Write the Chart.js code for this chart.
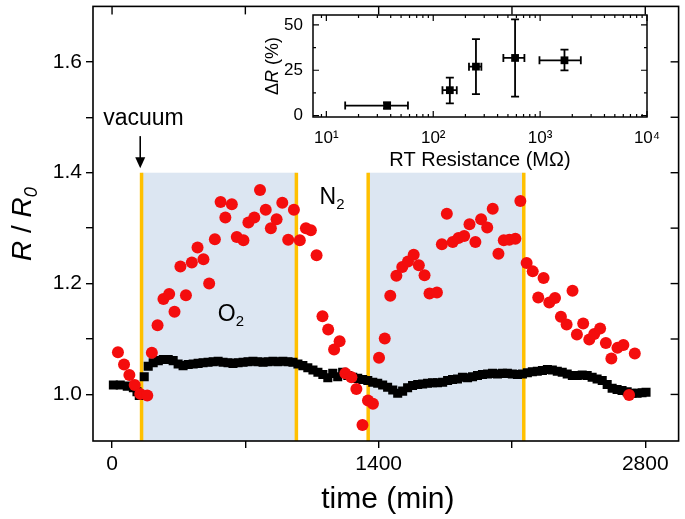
<!DOCTYPE html>
<html>
<head>
<meta charset="utf-8">
<script src="https://cdn.jsdelivr.net/npm/chart.js@4.4.0/dist/chart.umd.min.js"></script>
<style>
  html, body { margin: 0; padding: 0; background: #fff; }
  #wrap { position: relative; width: 685px; height: 519px; }
  #main { position: absolute; left: 0; top: 0; }
  #inset { position: absolute; left: 250px; top: 0; }
</style>
</head>
<body>
<div id="wrap">
  <canvas id="main" width="685" height="519" style="width:685px;height:519px"></canvas>
  <canvas id="inset" width="430" height="180" style="width:430px;height:180px"></canvas>
</div>
<script>
// ---------------- main plot data ----------------
const redTime = [31, 63, 91, 119, 148, 185, 209, 239, 270, 300, 328, 359, 388, 419, 449, 480, 510, 540, 570, 595,
  629, 655, 690, 716, 747, 777, 807, 834, 864, 894, 925, 955, 986, 1018, 1044, 1074, 1105, 1135, 1166, 1195,
  1225, 1257, 1283, 1315, 1344, 1370, 1402, 1432, 1461, 1493, 1524, 1554, 1584, 1611, 1641, 1667, 1706, 1732,
  1758, 1789, 1819, 1849, 1877, 1908, 1938, 1970, 1999, 2029, 2057, 2086, 2118, 2144, 2177, 2209, 2238, 2266,
  2296, 2326, 2357, 2387, 2418, 2441, 2474, 2506, 2532, 2563, 2593, 2622, 2654, 2685, 2715, 2745];
const redRatio = [1.076, 1.054, 1.035, 1.017, 1.001, 0.998, 1.075, 1.125, 1.172, 1.181, 1.149, 1.231, 1.179, 1.238,
  1.265, 1.244, 1.200, 1.280, 1.347, 1.319, 1.343, 1.284, 1.278, 1.310, 1.319, 1.369, 1.333, 1.300, 1.316, 1.346,
  1.279, 1.333, 1.278, 1.300, 1.296, 1.251, 1.141, 1.117, 1.081, 1.096, 1.038, 1.031, 1.010, 0.945, 0.989, 0.983,
  1.066, 1.101, 1.178, 1.214, 1.230, 1.240, 1.252, 1.233, 1.215, 1.182, 1.184, 1.271, 1.326, 1.275, 1.282, 1.286,
  1.307, 1.275, 1.316, 1.301, 1.335, 1.254, 1.278, 1.279, 1.281, 1.349, 1.237, 1.222, 1.175, 1.210, 1.166, 1.174,
  1.140, 1.126, 1.187, 1.108, 1.128, 1.099, 1.109, 1.119, 1.093, 1.065, 1.084, 1.089, 0.999, 1.074];

const blackTime = [7, 43, 80, 112, 131, 143, 169, 190, 216, 243, 269, 295, 321, 347, 373, 400, 426, 452, 478, 504,
  531, 557, 583, 609, 635, 662, 688, 714, 740, 766, 793, 819, 845, 871, 897, 924, 950, 976, 1002, 1028, 1055, 1081,
  1107, 1133, 1159, 1185, 1211, 1238, 1264, 1290, 1316, 1343, 1369, 1395, 1421, 1447, 1474, 1500, 1526, 1552, 1578,
  1605, 1631, 1657, 1683, 1709, 1736, 1762, 1788, 1814, 1840, 1867, 1893, 1919, 1945, 1972, 1998, 2024, 2050, 2076,
  2102, 2129, 2155, 2181, 2207, 2233, 2260, 2286, 2312, 2338, 2364, 2390, 2417, 2443, 2469, 2495, 2521, 2547, 2574,
  2600, 2626, 2652, 2678, 2705, 2731, 2757, 2783, 2804];
const blackRatio = [1.017, 1.017, 1.015, 1.012, 1.005, 0.998, 1.032, 1.051, 1.057, 1.061, 1.063, 1.063, 1.061, 1.055,
  1.052, 1.054, 1.055, 1.056, 1.057, 1.058, 1.059, 1.060, 1.058, 1.057, 1.056, 1.057, 1.058, 1.059, 1.060, 1.059,
  1.058, 1.059, 1.060, 1.059, 1.060, 1.059, 1.058, 1.055, 1.052, 1.048, 1.044, 1.040, 1.036, 1.030, 1.038, 1.032,
  1.040, 1.034, 1.031, 1.029, 1.027, 1.025, 1.022, 1.020, 1.017, 1.013, 1.008, 1.002, 1.006, 1.012, 1.016, 1.018,
  1.019, 1.020, 1.021, 1.021, 1.022, 1.025, 1.027, 1.028, 1.031, 1.030, 1.032, 1.034, 1.036, 1.037, 1.038, 1.037,
  1.038, 1.038, 1.037, 1.036, 1.037, 1.039, 1.041, 1.042, 1.043, 1.045, 1.044, 1.042, 1.040, 1.037, 1.034, 1.034,
  1.035, 1.034, 1.031, 1.028, 1.025, 1.018, 1.011, 1.009, 1.007, 1.005, 1.002, 1.002, 1.003, 1.004];

// gas exposure windows (min)
const gasStart = [155, 1345];
const gasEnd = [968, 2162];

const xTickValues = [0, 700, 1400, 2100, 2800];
const xTickLabels = [0, 1400, 2800];
const yTickValues = [1.0, 1.1, 1.2, 1.3, 1.4, 1.5, 1.6];
const yTickLabels = [1.0, 1.2, 1.4, 1.6];

// ---------------- inset data ----------------
const rtRes = [37, 143, 251, 583, 1690];
const rtResLow = [15, 122, 216, 453, 986];
const rtResHigh = [58, 166, 282, 713, 2404];
const deltaR = [5.5, 14.0, 27.0, 31.8, 30.5];
const deltaRLow = [3.8, 6.7, 11.8, 10.5, 24.9];
const deltaRHigh = [7.2, 20.9, 42.2, 53.1, 36.4];
const insetYTicks = [0, 12.5, 25, 37.5, 50];
const insetYLabels = [0, 25, 50];
const insetXLabels = { 10: '10\u00B9', 100: '10\u00B2', 1000: '10\u00B3', 10000: '10\u2074' };

const FONT = '"Liberation Sans", Arial, sans-serif';
Chart.defaults.font.family = FONT;
Chart.defaults.color = '#000';

function toPoints(xs, ys) {
    return xs.map((v, i) => ({ x: v, y: ys[i] }));
}

// no extra room for edge labels, the layout padding handles it
function noEdgePadding(s) {
    s.paddingTop = 0;
    s.paddingBottom = 0;
    s.paddingLeft = 0;
    s.paddingRight = 0;
}

// draws a run of text pieces (normal / italic / subscript) starting at x
function drawPieces(ctx, pieces, x, y, size) {
    pieces.forEach(p => {
        const s = p.sub ? size * 0.65 : size;
        ctx.font = (p.italic ? 'italic ' : '') + s + 'px ' + FONT;
        ctx.fillText(p.t, x, y + (p.sub ? size * 0.22 : 0));
        x += ctx.measureText(p.t).width;
    });
}
function piecesWidth(ctx, pieces, size) {
    let w = 0;
    pieces.forEach(p => {
        const s = p.sub ? size * 0.65 : size;
        ctx.font = (p.italic ? 'italic ' : '') + s + 'px ' + FONT;
        w += ctx.measureText(p.t).width;
    });
    return w;
}

// ----------------------------------
// MAIN PLOT DECORATION
// ----------------------------------
const mainDecor = {
    id: 'mainDecor',
    beforeDatasetsDraw(chart) {
        const { ctx, chartArea: a, scales: { x, y } } = chart;
        const top = y.getPixelForValue(1.4);
        ctx.save();
        gasStart.forEach((s, i) => {
            const x0 = x.getPixelForValue(s);
            const x1 = x.getPixelForValue(gasEnd[i]);
            ctx.fillStyle = '#dce6f2';
            ctx.fillRect(x0, top, x1 - x0, a.bottom - top);
            ctx.strokeStyle = '#ffc000';
            ctx.lineWidth = 3.5;
            [x0, x1].forEach(px => {
                ctx.beginPath();
                ctx.moveTo(px, top);
                ctx.lineTo(px, a.bottom);
                ctx.stroke();
            });
        });
        ctx.restore();
    },
    afterDraw(chart) {
        const { ctx, chartArea: a, scales: { x, y } } = chart;
        ctx.save();

        // frame
        ctx.strokeStyle = '#000';
        ctx.lineWidth = 1.6;
        ctx.strokeRect(a.left, a.top, a.right - a.left, a.bottom - a.top);

        // inward ticks on top and right
        ctx.lineWidth = 1.4;
        x.ticks.forEach(t => {
            const px = x.getPixelForValue(t.value);
            ctx.beginPath();
            ctx.moveTo(px, a.top);
            ctx.lineTo(px, a.top + 8);
            ctx.stroke();
        });
        y.ticks.forEach(t => {
            const py = y.getPixelForValue(t.value);
            ctx.beginPath();
            ctx.moveTo(a.right, py);
            ctx.lineTo(a.right - 8, py);
            ctx.stroke();
        });

        // vacuum label + arrow
        ctx.fillStyle = '#000';
        ctx.textBaseline = 'alphabetic';
        ctx.textAlign = 'center';
        ctx.font = '23px ' + FONT;
        ctx.fillText('vacuum', x.getPixelForValue(165), y.getPixelForValue(1.486));
        const ax = x.getPixelForValue(148);
        const ay0 = y.getPixelForValue(1.466);
        const ay1 = y.getPixelForValue(1.408);
        ctx.lineWidth = 1.6;
        ctx.beginPath();
        ctx.moveTo(ax, ay0);
        ctx.lineTo(ax, ay1 - 8);
        ctx.stroke();
        ctx.beginPath();
        ctx.moveTo(ax - 5, ay1 - 11);
        ctx.lineTo(ax + 5, ay1 - 11);
        ctx.lineTo(ax, ay1);
        ctx.closePath();
        ctx.fill();

        // gas labels
        ctx.textAlign = 'left';
        drawPieces(ctx, [{ t: 'N' }, { t: '2', sub: true }], x.getPixelForValue(1090), y.getPixelForValue(1.343), 23);
        drawPieces(ctx, [{ t: 'O' }, { t: '2', sub: true }], x.getPixelForValue(555), y.getPixelForValue(1.133), 23);

        // axis titles
        const xt = [{ t: 'time (min)' }];
        const xw = piecesWidth(ctx, xt, 30);
        drawPieces(ctx, xt, (a.left + a.right) / 2 - xw / 2 + 2, 508, 30);

        const yt = [{ t: 'R', italic: true }, { t: ' / ' }, { t: 'R', italic: true }, { t: '0', italic: true, sub: true }];
        const yw = piecesWidth(ctx, yt, 28);
        ctx.translate(31, 224);
        ctx.rotate(-Math.PI / 2);
        drawPieces(ctx, yt, -yw / 2, 0, 28);

        ctx.restore();
    }
};

new Chart(document.getElementById('main'), {
    type: 'scatter',
    data: {
        datasets: [{
            label: 'red',
            data: toPoints(redTime, redRatio),
            backgroundColor: '#f40d0d',
            borderWidth: 0,
            pointRadius: 6,
            pointHoverRadius: 6
        }, {
            label: 'black',
            data: toPoints(blackTime, blackRatio),
            backgroundColor: '#000',
            borderWidth: 0,
            pointStyle: 'rect',
            pointRadius: 6.4,
            pointHoverRadius: 6.4
        }]
    },
    options: {
        responsive: false,
        animation: false,
        events: [],
        layout: { padding: { top: 2, right: 5, left: 0, bottom: 0 } },
        plugins: { legend: { display: false }, tooltip: { enabled: false } },
        scales: {
            x: {
                type: 'linear',
                min: -100,
                max: 2975,
                afterBuildTicks: s => { s.ticks = xTickValues.map(v => ({ value: v })); },
                afterFit: s => { s.height = 78; noEdgePadding(s); },
                border: { display: false },
                grid: { drawOnChartArea: false, tickLength: 7, color: '#000', lineWidth: 1.4 },
                ticks: {
                    autoSkip: false,
                    maxRotation: 0,
                    padding: 4,
                    font: { size: 21 },
                    callback: v => xTickLabels.includes(v) ? String(v) : ''
                }
            },
            y: {
                type: 'linear',
                min: 0.916,
                max: 1.700,
                afterBuildTicks: s => { s.ticks = yTickValues.map(v => ({ value: v })); },
                afterFit: s => { s.width = 93; noEdgePadding(s); },
                border: { display: false },
                grid: { drawOnChartArea: false, tickLength: 7, color: '#000', lineWidth: 1.4 },
                ticks: {
                    autoSkip: false,
                    padding: 4,
                    font: { size: 21 },
                    callback: v => yTickLabels.some(t => Math.abs(t - v) < 1e-6) ? v.toFixed(1) : ''
                }
            }
        }
    },
    plugins: [mainDecor]
});

// ----------------------------------
// INSET
// ----------------------------------
const insetDecor = {
    id: 'insetDecor',
    beforeDatasetsDraw(chart) {
        const { ctx, scales: { x, y } } = chart;
        ctx.save();
        ctx.strokeStyle = '#000';
        ctx.lineWidth = 1.8;
        const c = 4;
        rtRes.forEach((r, i) => {
            const px = x.getPixelForValue(r);
            const py = y.getPixelForValue(deltaR[i]);
            const xl = x.getPixelForValue(rtResLow[i]);
            const xh = x.getPixelForValue(rtResHigh[i]);
            const yl = y.getPixelForValue(deltaRLow[i]);
            const yh = y.getPixelForValue(deltaRHigh[i]);
            ctx.beginPath();
            ctx.moveTo(xl, py); ctx.lineTo(xh, py);
            ctx.moveTo(px, yl); ctx.lineTo(px, yh);
            ctx.moveTo(xl, py - c); ctx.lineTo(xl, py + c);
            ctx.moveTo(xh, py - c); ctx.lineTo(xh, py + c);
            ctx.moveTo(px - c, yl); ctx.lineTo(px + c, yl);
            ctx.moveTo(px - c, yh); ctx.lineTo(px + c, yh);
            ctx.stroke();
        });
        ctx.restore();
    },
    afterDraw(chart) {
        const { ctx, chartArea: a, scales: { x, y } } = chart;
        ctx.save();
        ctx.strokeStyle = '#000';
        ctx.lineWidth = 1.5;
        ctx.strokeRect(a.left, a.top, a.right - a.left, a.bottom - a.top);

        // inward ticks, log axis
        ctx.lineWidth = 1.2;
        x.ticks.forEach(t => {
            const v = t.value;
            const dec = Math.pow(10, Math.floor(Math.log10(v) + 1e-9));
            const m = v / dec;
            if (Math.abs(m - Math.round(m)) > 1e-6) return;
            const len = Math.round(m) === 1 ? 6 : 3;
            const px = x.getPixelForValue(v);
            ctx.beginPath();
            ctx.moveTo(px, a.bottom); ctx.lineTo(px, a.bottom - len);
            ctx.moveTo(px, a.top); ctx.lineTo(px, a.top + len);
            ctx.stroke();
        });
        y.ticks.forEach(t => {
            const len = insetYLabels.includes(t.value) ? 6 : 3;
            const py = y.getPixelForValue(t.value);
            ctx.beginPath();
            ctx.moveTo(a.left, py); ctx.lineTo(a.left + len, py);
            ctx.moveTo(a.right, py); ctx.lineTo(a.right - len, py);
            ctx.stroke();
        });

        // titles
        ctx.fillStyle = '#000';
        ctx.textBaseline = 'alphabetic';
        ctx.textAlign = 'left';
        const xt = [{ t: 'RT Resistance (M\u03A9)' }];
        const xw = piecesWidth(ctx, xt, 20);
        drawPieces(ctx, xt, (a.left + a.right) / 2 - xw / 2, 166, 20);

        const yt = [{ t: '\u0394' }, { t: 'R', italic: true }, { t: ' (%)' }];
        const yw = piecesWidth(ctx, yt, 18);
        ctx.translate(28, (a.top + a.bottom) / 2);
        ctx.rotate(-Math.PI / 2);
        drawPieces(ctx, yt, -yw / 2, 0, 18);
        ctx.restore();
    }
};

new Chart(document.getElementById('inset'), {
    type: 'scatter',
    data: {
        datasets: [{
            label: 'dR',
            data: toPoints(rtRes, deltaR),
            backgroundColor: '#000',
            borderWidth: 0,
            pointStyle: 'rect',
            pointRadius: 5.5,
            pointHoverRadius: 5.5
        }]
    },
    options: {
        responsive: false,
        animation: false,
        events: [],
        layout: { padding: { top: 15, right: 33, left: 0, bottom: 0 } },
        plugins: { legend: { display: false }, tooltip: { enabled: false } },
        scales: {
            x: {
                type: 'logarithmic',
                min: 7.5,
                max: 10000,
                afterFit: s => { s.height = 63; noEdgePadding(s); },
                border: { display: false },
                grid: { display: false },
                ticks: {
                    autoSkip: false,
                    maxRotation: 0,
                    padding: 3,
                    font: { size: 17 },
                    callback: v => insetXLabels[v] || ''
                }
            },
            y: {
                type: 'linear',
                min: -0.8,
                max: 55.5,
                afterBuildTicks: s => { s.ticks = insetYTicks.map(v => ({ value: v })); },
                afterFit: s => { s.width = 63; noEdgePadding(s); },
                border: { display: false },
                grid: { display: false },
                ticks: {
                    autoSkip: false,
                    padding: 2,
                    font: { size: 17 },
                    callback: v => insetYLabels.includes(v) ? String(v) : ''
                }
            }
        }
    },
    plugins: [insetDecor]
});
</script>
</body>
</html>
